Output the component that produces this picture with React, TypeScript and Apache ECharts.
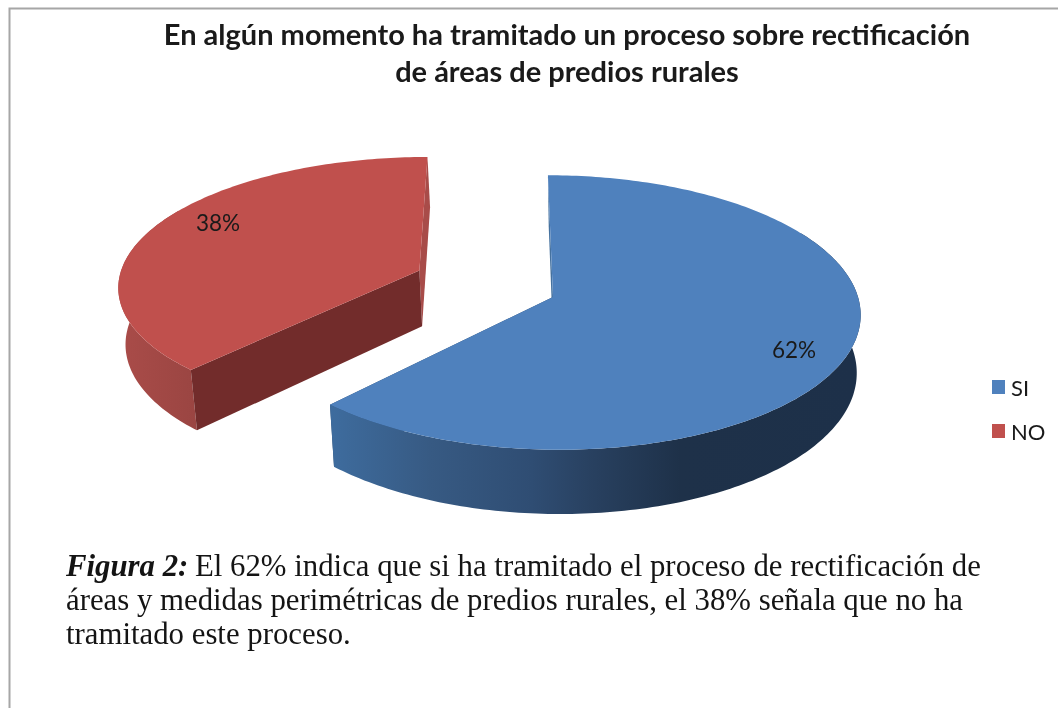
import React, { useEffect, useRef } from "react";
import * as echarts from "echarts";

const CATEGORIES = ["SI", "NO"];
const VALUES = [62, 38];
const COLORS = ["#4f81bd", "#c0504d"];
const TITLE = "En algún momento ha tramitado un proceso sobre rectificación\nde áreas de predios rurales";

const VP = { x: 503, y: -902 };
const PLANE_H = 1199;
const K = 0.113;
const RX = 305;
const DEPTH = 57;
const FLOOR_CENTER = 600;
const FLOOR_SCALE = 0.985;
const WALL_FROM = 60;
const WALL_TO = 300;

const total = VALUES.reduce((a, b) => a + b, 0);

// Per-slice layout of the exploded pie: world offsets, face colours and label position
const LAYOUT = [
  { baseX: 50, baseV: 0, vScale: 1, labelX: 794, labelY: 349,
    wall: [[0, "#3e6c9e"], [0.19, "#375a83"], [0.38, "#2f4d73"], [0.5, "#28405f"], [0.66, "#1e3149"], [1, "#1d3049"]],
    startFace: "#46729f", endFace: "#2c4a6e", startOnTop: false },
  { baseX: -85.5, baseV: -0.2, vScale: 0.97, labelX: 218, labelY: 222,
    wall: [[0, "#aa4c49"], [1, "#9a4542"]],
    startFace: "#722c2b", endFace: "#a84c49", startOnTop: true },
];

function project(u: number, v: number, l: any) {
  const V = l.baseV + v * l.vScale;
  const f = 1 / (1 - K * V);
  return { x: VP.x + (l.baseX + RX * u) * f, y: VP.y + PLANE_H * f, f };
}
function rim(theta: number, l: any) {
  const t = (theta * Math.PI) / 180;
  return project(Math.sin(t), -Math.cos(t), l);
}
function floor(p: { x: number; y: number; f: number }) {
  return [FLOOR_CENTER + (p.x - FLOOR_CENTER) * FLOOR_SCALE, p.y + DEPTH * p.f];
}
function arcPoints(a0: number, a1: number, l: any) {
  const out: { x: number; y: number; f: number }[] = [];
  for (let a = a0; a < a1; a += 1) out.push(rim(a, l));
  out.push(rim(a1, l));
  return out;
}

function sliceRenderer(index: number) {
  return (params: any, api: any) => {
    const value = api.value(0);
    const before = VALUES.slice(0, index).reduce((a, b) => a + b, 0);
    const a0 = (before / total) * 360;
    const a1 = a0 + (value / total) * 360;
    const l = LAYOUT[index];
    const arc = arcPoints(a0, a1, l);
    const apex = project(0, 0, l);
    const top = arc.map((p) => [p.x, p.y]);
    const front = arcPoints(Math.max(a0, WALL_FROM), Math.min(a1, WALL_TO), l);
    const first = arc[0];
    const last = arc[arc.length - 1];
    const radial = (p: any, fill: string) => ({
      type: "polygon",
      shape: { points: [[apex.x, apex.y], [p.x, p.y], floor(p), floor(apex)] },
      style: { fill },
    });
    const startFace = radial(first, l.startFace);
    const endFace = radial(last, l.endFace);
    const wall = {
      type: "polygon",
      shape: { points: [...front.map((p) => [p.x, p.y]), ...front.map(floor).reverse()] },
      style: {
        fill: {
          type: "linear", x: 0, y: 0, x2: 1, y2: 0,
          colorStops: l.wall.map(([offset, color]) => ({ offset, color })),
        },
      },
    };
    const children: any[] = [
      endFace,
      ...(l.startOnTop ? [wall, startFace] : [startFace, wall]),
      { type: "polygon", shape: { points: [[apex.x, apex.y], ...top] }, style: { fill: COLORS[index] } },
      {
        type: "text",
        x: l.labelX,
        y: l.labelY,
        style: {
          text: `${Math.round((value / total) * 100)}%`,
          fill: "#1a1a1a",
          font: "22.5px Lato",
          align: "center",
          verticalAlign: "middle",
        },
      },
    ];
    return { type: "group", children };
  };
}

const SERIF = "Liberation Serif";
const captionLine = (text: string, x: number, y: number, font = `30.8px '${SERIF}'`) => ({
  type: "text",
  x,
  y,
  style: { text, font, fill: "#141414", align: "left", verticalAlign: "middle" },
});

export default function App() {
  const ref = useRef<HTMLDivElement>(null);
  useEffect(() => {
    document.body.style.margin = "0";
    const chart = echarts.init(ref.current!, undefined, { renderer: "svg" });
    chart.setOption({
      animation: false,
      backgroundColor: "#ffffff",
      title: {
        text: TITLE,
        left: 562,
        top: 10,
        textAlign: "center",
        textStyle: { fontFamily: "Lato", fontWeight: "bold", fontSize: 29, lineHeight: 37, color: "#1a1a1a" },
      },
      legend: {
        data: CATEGORIES,
        orient: "vertical",
        left: 987,
        top: 371,
        itemWidth: 13,
        itemHeight: 14,
        itemGap: 22,
        icon: "rect",
        selectedMode: false,
        textStyle: { fontFamily: "Lato", fontSize: 22, color: "#1a1a1a", padding: [0, 0, 0, 1] },
      },
      series: CATEGORIES.map((name, i) => ({
        type: "custom",
        name,
        coordinateSystem: "none",
        silent: true,
        itemStyle: { color: COLORS[i] },
        data: [[VALUES[i]]],
        renderItem: sliceRenderer(i),
      })),
      graphic: [
        {
          type: "polyline",
          shape: { points: [[9.5, 708], [9.5, 8.5], [1058, 8.5]] },
          style: { stroke: "#a6a6a6", lineWidth: 2, fill: "none" },
        },
        captionLine("Figura 2:", 66, 566, `italic bold 30.8px '${SERIF}'`),
        captionLine("El 62% indica que si ha tramitado el proceso de rectificación de", 195, 566),
        captionLine("áreas y medidas perimétricas de predios rurales, el 38% señala que no ha", 66, 600),
        captionLine("tramitado este proceso.", 66, 634),
      ],
    });
    return () => chart.dispose();
  }, []);
  return <div ref={ref} style={{ position: "absolute", left: 0, top: 0, width: 1058, height: 708, filter: "blur(0.6px)" }} />;
}
